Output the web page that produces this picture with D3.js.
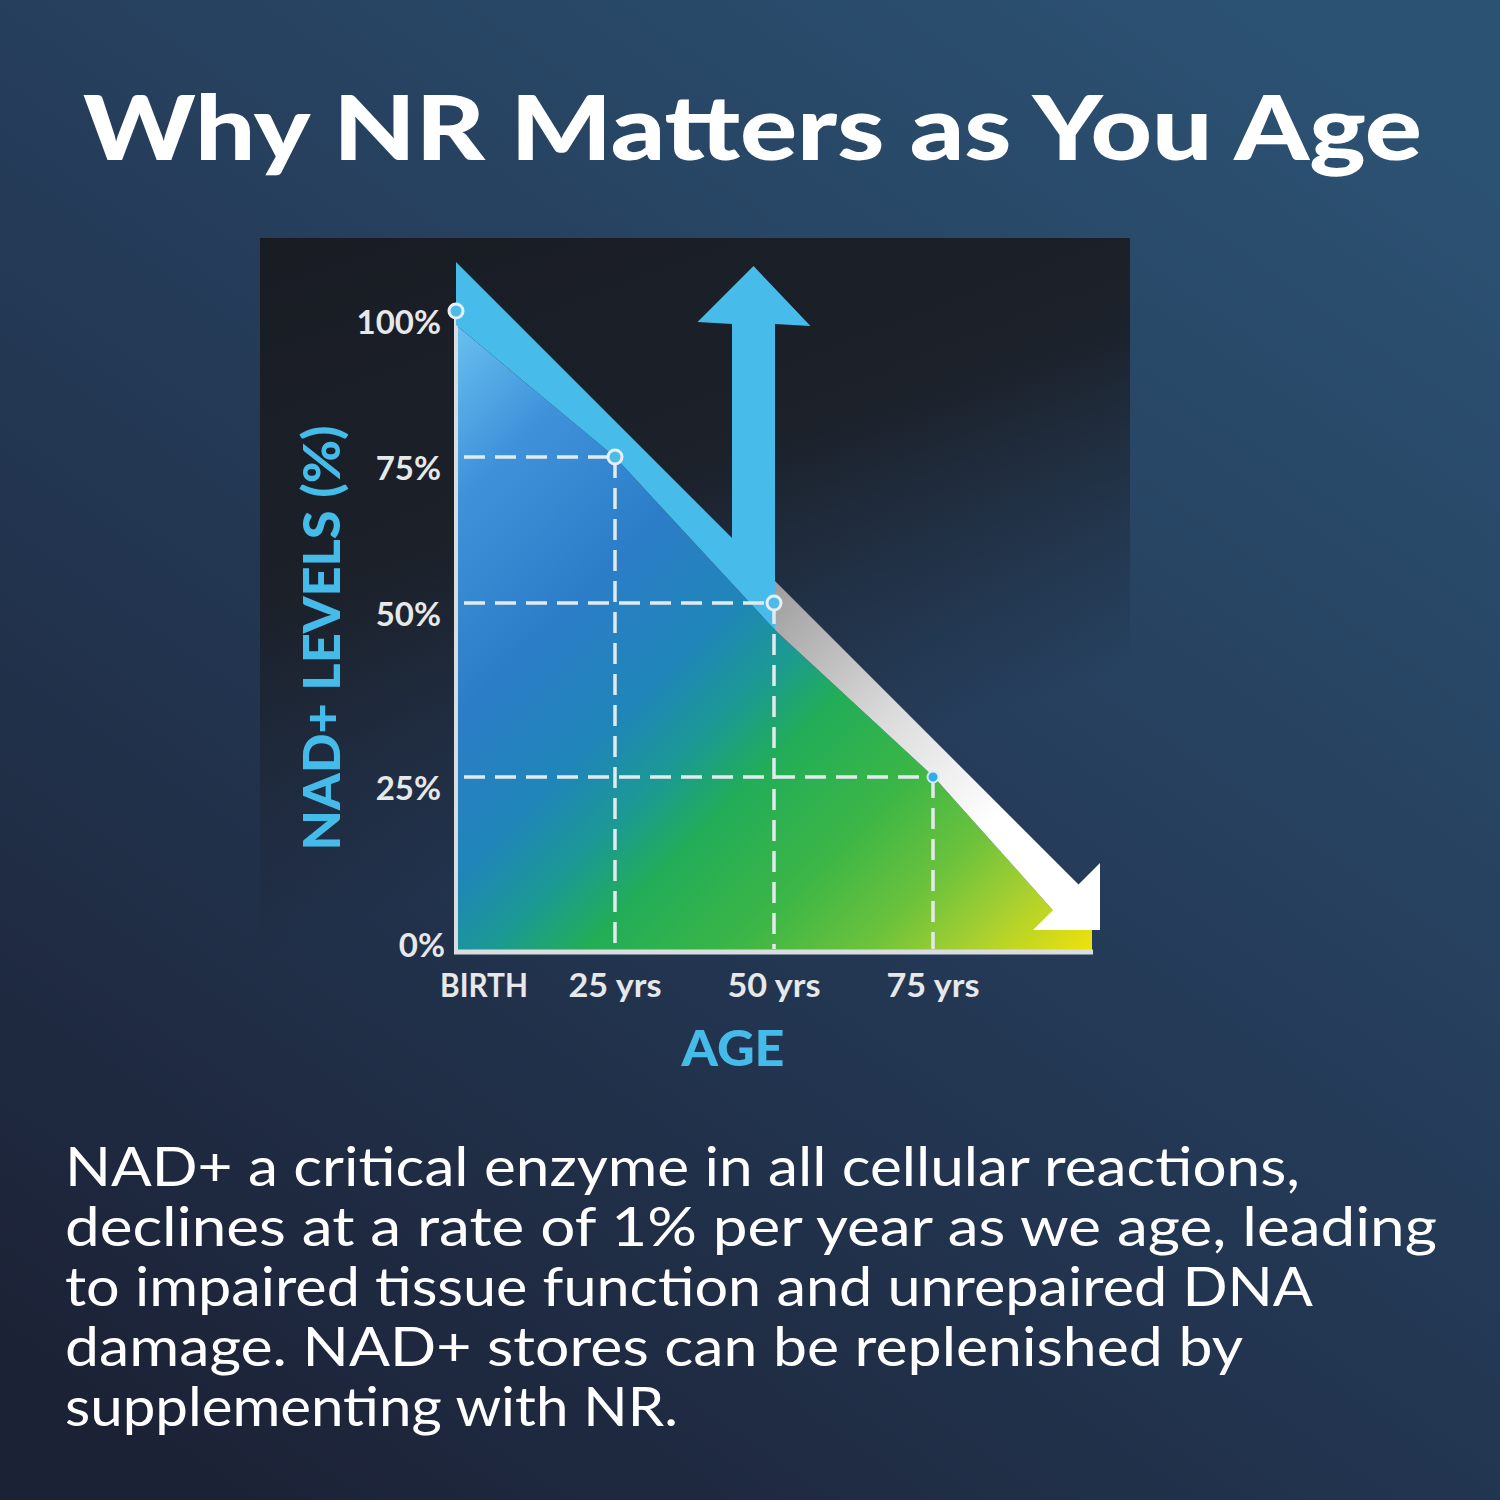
<!DOCTYPE html>
<html><head><meta charset="utf-8">
<script src="https://cdn.jsdelivr.net/npm/d3@7"></script>
<style>html,body{margin:0;padding:0;background:#22324a;} svg{display:block}</style>
</head><body>
<svg id="c" width="1500" height="1500"></svg>
<script>
// ---------- data ----------
const titleText = "Why NR Matters as You Age";
const ageValues = [0, 25, 50, 75];
const levelValues = [100, 75, 50, 25];
const ageTickLabels = ["BIRTH", "25 yrs", "50 yrs", "75 yrs"];
const levelTicks = [100, 75, 50, 25, 0];
const levelTickLabels = ["100%", "75%", "50%", "25%", "0%"];
const yTitle = "NAD+ LEVELS (%)";
const xTitle = "AGE";
const bodyLines = [
  "NAD+ a critical enzyme in all cellular reactions,",
  "declines at a rate of 1% per year as we age, leading",
  "to impaired tissue function and unrepaired DNA",
  "damage. NAD+ stores can be replenished by",
  "supplementing with NR."
];
const bodyWidths = [1235, 1372, 1248, 1178, 613];

// ---------- setup ----------
const svg = d3.select("#c");
const W = 1500, H = 1500;
const defs = svg.append("defs");

const x = d3.scaleLinear().domain([0, 100]).range([456, 1092]);
const y = d3.scaleLinear().domain([0, 25, 50, 75, 100]).range([952, 777, 603, 457, 311]);

function linGrad(id, attrs, stops) {
  const g = defs.append("linearGradient").attr("id", id);
  Object.entries(attrs).forEach(([k, v]) => g.attr(k, v));
  stops.forEach(s => g.append("stop").attr("offset", s[0]).attr("stop-color", s[1]).attr("stop-opacity", s[2] == null ? 1 : s[2]));
  return g;
}

linGrad("bg", {x1: 0.15, y1: 1, x2: 0.85, y2: 0}, [[0, "#1c2236"], [0.5, "#243a57"], [1, "#2c5273"]]);
linGrad("panel", {x1: 0, y1: 0, x2: 0.35, y2: 1}, [[0, "#191c23", 1], [0.4, "#1b1f27", 0.95], [0.78, "#1c2230", 0]]);

const x0 = x(0), xEnd = x(100), yTop = y(100), yBase = y(0);
linGrad("fill", {gradientUnits: "userSpaceOnUse", x1: x0, y1: yTop, x2: xEnd, y2: yBase}, [
  [0, "#6cc4f2"], [0.15, "#3f92da"], [0.32, "#2c7dc8"], [0.45, "#1f86b8"], [0.53, "#1b9a92"],
  [0.6, "#22ad58"], [0.72, "#3cb646"], [0.82, "#6cc23c"], [0.9, "#a8d030"], [1, "#f0e20a"]
]);

// background
svg.append("rect").attr("width", W).attr("height", H).attr("fill", "url(#bg)");
svg.append("rect").attr("x", 260).attr("y", 238).attr("width", 870).attr("height", 820).attr("fill", "url(#panel)");

// title
svg.append("text").attr("x", 83).attr("y", 160).attr("textLength", 1339).attr("lengthAdjust", "spacingAndGlyphs")
  .attr("font-family", "Lato, 'Open Sans', sans-serif").attr("font-weight", 900).attr("font-size", 90)
  .attr("fill", "#ffffff").text(titleText);

// ---------- band geometry (derived from scales / data points) ----------
const bandRise = 49, head = 67;
const cU = yTop - bandRise - x0;      // upper edge: y = px + cU
const yU = px => px + cU;
const T = [xEnd + 8, yBase - 22];     // down arrow tip
const S = T[0] + T[1] - head;         // head base line: x + y = S
const mU = (S - cU) / 2;
const sR = x(50) + 1, sL = sR - 43, cx = (sL + sR) / 2, hw = 57;
const hb = yTop + 13, tipY = yTop - 45;

// lower edge of the band follows the data points
const lowA = [x0, yTop + 14];
const lowB = [x(25), y(75)];
const lowC = [sR, y(50) + 27];
const lowD = [x(75) + 1, y(25)];
// extend last segment to the head base line
const slopeD = 1.12;
const dxD = (S - lowD[0] - lowD[1]) / (1 + slopeD);
const mL = [lowD[0] + dxD, lowD[1] + dxD * slopeD];

// area fill
const fillPts = [lowA, lowB, lowC, lowD, mL, [xEnd, T[1]], [xEnd, yBase], [x0, yBase]];
svg.append("path").attr("d", d3.line()(fillPts) + "Z").attr("fill", "url(#fill)");

// axes
const axisCol = "#dadde0";
svg.append("line").attr("x1", x0).attr("x2", x0).attr("y1", yTop).attr("y2", yBase + 2)
  .attr("stroke", axisCol).attr("stroke-width", 4);
svg.append("line").attr("x1", x0 - 2).attr("x2", xEnd + 1).attr("y1", yBase).attr("y2", yBase)
  .attr("stroke", axisCol).attr("stroke-width", 5);

// bands
linGrad("gray", {gradientUnits: "userSpaceOnUse", x1: sR, y1: yU(sR), x2: sR + 230, y2: yU(sR) + 230},
  [[0, "#9d9d9d"], [0.55, "#dcdcdc"], [1, "#ffffff"]]);

const bluePts = [[x0, yU(x0)], [sL, yU(sL)], [sL, hb], [cx - hw + 1, hb - 2], [cx, tipY], [cx + hw, hb + 2],
  [sR, hb], lowC, lowB, lowA];
const grayPts = [[sR, yU(sR)], [mU, yU(mU)], [T[0], T[1] - head], [T[0], T[1]], [T[0] - head, T[1]],
  mL, lowD, lowC];

svg.append("path").attr("d", d3.line()(grayPts) + "Z").attr("fill", "url(#gray)");
svg.append("path").attr("d", d3.line()(bluePts) + "Z").attr("fill", "#47bcea");

// dashed guides
const pts = ageValues.map((a, i) => ({age: a, lvl: levelValues[i]}));
const guideCol = "#e3eaee";
pts.filter(p => p.age > 0).forEach(p => {
  svg.append("line").attr("x1", x0 + 8).attr("x2", x(p.age)).attr("y1", y(p.lvl)).attr("y2", y(p.lvl))
    .attr("stroke", guideCol).attr("stroke-width", 3.5).attr("stroke-dasharray", "21 10");
  svg.append("line").attr("x1", x(p.age)).attr("x2", x(p.age)).attr("y1", y(p.lvl)).attr("y2", yBase - 3)
    .attr("stroke", guideCol).attr("stroke-width", 3.5).attr("stroke-dasharray", "21 10");
});

// dots
pts.forEach(p => {
  const solid = p.lvl === 25;
  svg.append("circle").attr("cx", x(p.age)).attr("cy", y(p.lvl))
    .attr("r", solid ? 5.5 : 7)
    .attr("fill", solid ? "#36a9ec" : "#4bbbe8")
    .attr("stroke", solid ? "#d6ecf6" : "#e8eff2")
    .attr("stroke-width", solid ? 2 : 3);
});

// y tick labels
const tickFont = "Lato, 'Open Sans', sans-serif";
levelTicks.forEach((v, i) => {
  const last = v === 0;
  svg.append("text").attr("x", last ? 445 : 441).attr("y", y(v) + (last ? 5 : 23))
    .attr("text-anchor", "end").attr("font-family", tickFont).attr("font-weight", 700)
    .attr("font-size", 33).attr("fill", "#e6e8ea").text(levelTickLabels[i]);
});

// x tick labels
ageValues.forEach((a, i) => {
  const first = a === 0;
  svg.append("text").attr("x", first ? x(a) - 16 : x(a)).attr("y", yBase + 45)
    .attr("text-anchor", first ? "start" : "middle").attr("font-family", tickFont).attr("font-weight", 700)
    .attr("font-size", 33).attr("fill", "#e6e8ea")
    .attr("textLength", first ? 88 : 93).attr("lengthAdjust", "spacingAndGlyphs")
    .text(ageTickLabels[i]);
});

// axis titles
svg.append("text").attr("x", (x(0) + x(100)) / 2 - 41).attr("y", yBase + 114).attr("text-anchor", "middle")
  .attr("font-family", tickFont).attr("font-weight", 900).attr("font-size", 50).attr("fill", "#45bbea")
  .attr("textLength", 103).attr("lengthAdjust", "spacingAndGlyphs").text(xTitle);

svg.append("text").attr("transform", "translate(340,638) rotate(-90)").attr("text-anchor", "middle")
  .attr("font-family", tickFont).attr("font-weight", 900).attr("font-size", 51).attr("fill", "#45bbea")
  .attr("textLength", 425).attr("lengthAdjust", "spacingAndGlyphs").text(yTitle);

// body text
bodyLines.forEach((line, i) => {
  svg.append("text").attr("x", 65).attr("y", 1186 + i * 60)
    .attr("textLength", bodyWidths[i]).attr("lengthAdjust", "spacingAndGlyphs")
    .attr("font-family", "Lato, 'Open Sans', sans-serif").attr("font-weight", 400).attr("font-size", 55)
    .attr("fill", "#ffffff").text(line);
});
</script>
</body></html>
